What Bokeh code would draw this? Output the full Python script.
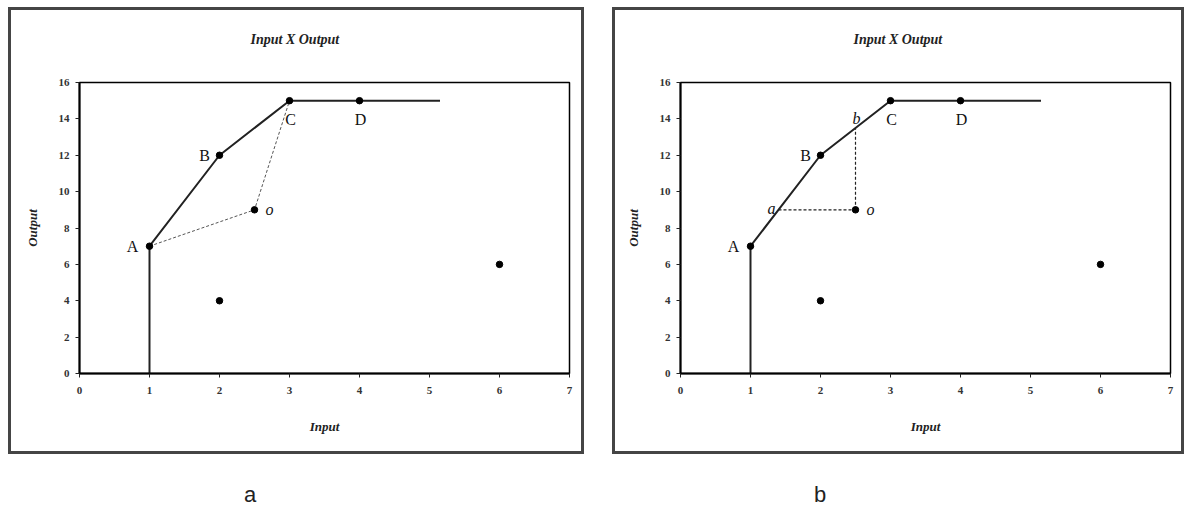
from bokeh.plotting import figure
from bokeh.layouts import column, row
from bokeh.models import (Range1d, FixedTicker, ColumnDataSource, Div, Spacer, LinearAxis,
                          Title, CustomJSTickFormatter)
from bokeh.core.properties import value
from bokeh.embed import file_html
from bokeh.resources import INLINE

# ---- data ----
frontier_x = [1, 1, 2, 3, 5.15]
frontier_y = [0, 7, 12, 15, 15]

pts_x = [1, 2, 3, 4, 2.5, 2, 6]
pts_y = [7, 12, 15, 15, 9, 4, 6]

upper_labels = ["A", "B", "C", "D"]
upper_x = [1, 2, 3, 4]
upper_y = [7, 12, 15, 15]

o_x = [2.5]
o_y = [9]

# panel a: radial projection of o onto the frontier via A and C
dash_a_x = [1, 2.5, 3]
dash_a_y = [7, 9, 15]

# panel b: input (a) and output (b) projections
a_pt = (1.4, 9)
b_pt = (2.5, 13.5)

x_ticks = [0, 1, 2, 3, 4, 5, 6, 7]
y_ticks = [0, 2, 4, 6, 8, 10, 12, 14, 16]

TITLE = "Input X Output"
SERIF = "Liberation Serif"
H = 447


def make_panel(kind, width, left, right, title_offset):
    p = figure(width=width, height=H, x_range=Range1d(0, 7), y_range=Range1d(0, 16),
               output_backend="svg", toolbar_location=None,
               min_border_left=left, min_border_right=right,
               min_border_top=75, min_border_bottom=81,
               styles={"outline": "3px solid #454545", "outline-offset": "-3px"})
    p.border_fill_color = None

    # invisible spacer axis between frame and title (blank labels, hidden ticks)
    spacer_axis = LinearAxis(ticker=FixedTicker(ticks=[3.5]), axis_line_color=None,
                             major_tick_line_color=None, minor_tick_line_color=None,
                             major_tick_in=0, major_tick_out=31, major_label_standoff=3,
                             major_label_text_font_size="11px",
                             formatter=CustomJSTickFormatter(code="return ''"))
    p.add_layout(spacer_axis, "above")

    t = Title(text=TITLE, align="left", offset=title_offset, standoff=10,
              text_font=SERIF, text_font_style="bold italic", text_font_size="14px",
              text_color="#222222")
    p.add_layout(t, "above")

    p.xgrid.visible = False
    p.ygrid.visible = False
    p.outline_line_color = "black"
    p.outline_line_width = 1.5
    p.background_fill_color = "white"

    for ax, ticks in ((p.below[0], x_ticks), (p.left[0], y_ticks)):
        ax.ticker = FixedTicker(ticks=ticks)
        ax.minor_tick_line_color = None
        ax.major_tick_in = 0
        ax.major_tick_out = 4
        ax.major_tick_line_color = "#222222"
        ax.axis_line_color = "black"
        ax.axis_line_width = 2
        ax.major_label_text_font = SERIF
        ax.major_label_text_font_size = "11px"
        ax.major_label_text_font_style = "bold"
        ax.major_label_text_color = "#333333"
        ax.axis_label_text_font = SERIF
        ax.axis_label_text_font_size = "13px"
        ax.axis_label_text_font_style = "bold italic"
        ax.axis_label_text_color = "#222222"
    xa = p.below[0]
    ya = p.left[0]
    xa.axis_label = "Input"
    ya.axis_label = "Output"
    xa.major_label_standoff = 9
    ya.major_label_standoff = 6
    xa.axis_label_standoff = 22
    ya.axis_label_standoff = 16

    # frontier
    p.line(frontier_x, frontier_y, line_color="#222222", line_width=2)

    if kind == "a":
        p.line(dash_a_x, dash_a_y, line_color="#555555", line_width=1, line_dash="3 2")
    else:
        p.line([a_pt[0], o_x[0]], [a_pt[1], o_y[0]], line_color="#222222", line_width=1.2, line_dash="3 2")
        p.line([o_x[0], b_pt[0]], [o_y[0], b_pt[1]], line_color="#222222", line_width=1.2, line_dash="3 2")

    p.scatter(pts_x, pts_y, size=6.5, color="black", marker="circle")

    offs_x = [-17, -15, 1, 1]
    offs_y = [0, 0, 19, 19]
    src = ColumnDataSource(dict(x=upper_x, y=upper_y, t=upper_labels, dx=offs_x, dy=offs_y))
    p.text(x="x", y="y", text="t", x_offset="dx", y_offset="dy", source=src,
           text_font=value(SERIF), text_font_size="16px", text_color="#111111",
           text_align="center", text_baseline="middle")
    p.text(x=o_x, y=o_y, text=["o"], x_offset=15, y_offset=0,
           text_font=value(SERIF), text_font_size="16px", text_font_style="italic",
           text_color="#111111", text_align="center", text_baseline="middle")
    if kind == "b":
        p.text(x=[a_pt[0]], y=[a_pt[1]], text=["a"], x_offset=-7, y_offset=-1,
               text_font=value(SERIF), text_font_size="16px", text_font_style="italic",
               text_color="#111111", text_align="center", text_baseline="middle")
        p.text(x=[b_pt[0]], y=[b_pt[1]], text=["b"], x_offset=1, y_offset=-9,
               text_font=value(SERIF), text_font_size="16px", text_font_style="italic",
               text_color="#111111", text_align="center", text_baseline="middle")
    return p


pa = make_panel("a", 576, 71, 15, 171)
pb = make_panel("b", 572, 68, 14, 173)

lab_style = {"font-family": "Liberation Sans, Arial, sans-serif", "font-size": "22px",
             "color": "#222222"}
la = Div(text="a", width=576, height=60,
         styles=dict(lab_style, **{"padding-left": "231px", "padding-top": "20px"}))
lb = Div(text="b", width=572, height=60,
         styles=dict(lab_style, **{"padding-left": "187px", "padding-top": "20px"}))

layout = column(
    Spacer(height=7),
    row(Spacer(width=8), pa, Spacer(width=28), pb, spacing=0),
    row(Spacer(width=8), la, Spacer(width=28), lb, spacing=0),
    spacing=0,
)

open("out.html", "w").write(file_html(layout, INLINE))
